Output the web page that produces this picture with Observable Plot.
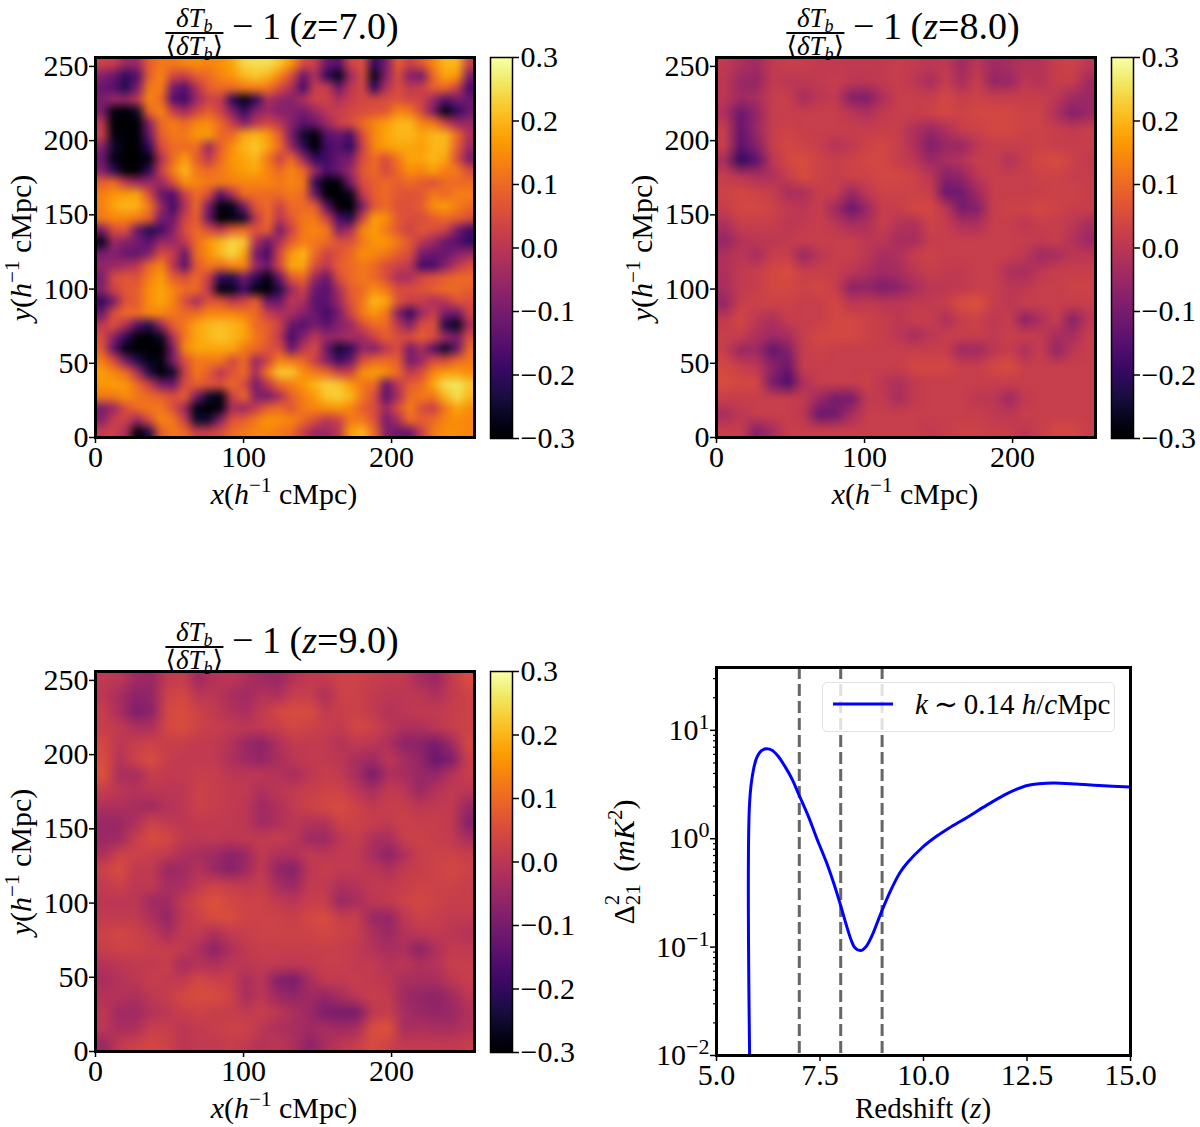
<!DOCTYPE html>
<html><head><meta charset="utf-8">
<script src="https://cdn.jsdelivr.net/npm/d3@7"></script>
<script src="https://cdn.jsdelivr.net/npm/@observablehq/plot@0.6"></script>
<style>
html,body{margin:0;padding:0;background:#fff}
#page{position:relative;width:1200px;height:1127px;overflow:hidden;font-family:"Liberation Serif","DejaVu Serif",serif;color:#000}
.lab{position:absolute;white-space:nowrap;font-size:30px;line-height:1;transform:translate(-50%,-50%)}
.lab.rot{transform:translate(-50%,-50%) rotate(-90deg)}
.lab sup{font-size:21px;line-height:0;vertical-align:baseline;position:relative;top:-12px}
.title{position:absolute;white-space:nowrap;font-size:38px;line-height:1;display:flex;align-items:center;transform:translateX(-50%)}
.title .rest{position:relative;top:-6px;word-spacing:-1px}
.frac{display:inline-flex;flex-direction:column;align-items:center;font-size:27px;margin-right:9px}
.frac .n{padding:0 3px 1px;border-bottom:2px solid #000;line-height:26px;height:26px;align-self:stretch;text-align:center}
.frac .d{line-height:24px;height:24px}
.frac sub{font-size:18px;line-height:0;vertical-align:baseline;position:relative;top:5px;font-style:italic}
.legend{position:absolute;left:822px;top:682px;width:293px;height:50px;border:1px solid #e2e2e2;border-radius:5px;background:rgba(255,255,255,.8);box-sizing:border-box}
.legend .k{position:absolute;left:92px;top:3px;font-size:29px;line-height:36px;white-space:nowrap}
</style></head><body><div id="page"></div>
<script>
const zSeven = [
[.03,.02,-.05,-.05,.08,.12,.12,.14,.15,.14,.15,.18,.24,.25,.25,.22,.16,.05,.02,-.12,-.15,.03,.06,-.2,-.1,.08,.02,.07,.14,.2,.2,.02],
[-.08,-.12,-.2,-.15,.08,.14,.04,.02,.08,.1,.14,.16,.2,.22,.2,.14,.05,-.12,-.02,-.2,-.27,-.05,.05,-.27,-.08,.05,-.08,-.1,.1,.18,.16,-.1],
[-.12,-.15,-.22,-.1,.12,.13,-.1,-.15,-.02,.08,.1,.1,.12,.13,.12,.05,-.02,-.17,.02,.02,-.12,.0,.04,-.2,-.02,.05,.0,.02,.08,.1,.03,-.17],
[-.1,-.05,-.06,.0,.14,.1,-.15,-.18,-.05,.03,.02,-.2,-.28,-.2,-.03,-.06,-.08,-.02,.03,.03,-.02,.02,.04,.04,.05,.06,.04,.03,-.05,-.15,-.1,-.12],
[-.1,-.28,-.3,-.25,.1,.14,.02,-.04,.03,.08,.03,-.08,-.2,-.08,-.05,-.08,-.08,-.1,-.05,.0,.02,.04,.05,.06,.07,.14,.12,.04,-.1,-.28,-.2,-.12],
[.0,-.3,-.3,-.3,-.08,.1,.13,.1,.14,.15,.1,.02,-.08,.0,.04,.0,-.08,-.15,-.12,-.05,.02,.05,.1,.14,.17,.2,.2,.14,.12,.03,-.05,-.05],
[.03,-.28,-.3,-.3,-.12,.08,.12,.12,.16,.17,.1,.1,.18,.2,.17,.08,-.1,-.25,-.3,-.15,-.12,-.16,.05,.14,.18,.2,.2,.18,.2,.2,.1,-.02],
[-.08,-.25,-.3,-.3,-.2,.05,.1,.1,.1,-.05,.08,.15,.2,.22,.18,.1,-.05,-.2,-.3,-.18,-.15,-.2,.02,.14,.17,.18,.18,.17,.2,.2,.08,-.05],
[-.12,-.28,-.3,-.3,-.28,-.02,.1,.17,.08,.0,.1,.16,.18,.2,.12,.03,.1,-.05,-.2,-.18,-.12,-.1,.05,.1,.05,.12,.18,.18,.2,.18,.05,-.1],
[-.08,-.2,-.3,-.3,-.2,.02,.13,.2,.12,.1,.12,.15,.17,.18,.14,.1,.14,.1,-.05,-.17,-.12,-.05,.07,.1,.04,.1,.15,.14,.17,.13,.12,.05],
[.08,.1,.0,-.05,-.05,-.05,.05,.15,.14,.12,.12,.13,.14,.14,.14,.12,.14,.12,-.2,-.3,-.28,-.1,.05,.08,.1,.08,.1,.08,.06,.1,.1,.1],
[.13,.16,.17,.18,.05,-.12,-.16,.02,.1,.05,-.15,-.03,.1,.1,.1,.1,.12,.1,-.12,-.3,-.3,-.27,.0,.08,.1,.07,.06,.07,.12,.1,.13,.13],
[.13,.18,.2,.19,.12,-.05,-.18,-.02,.1,-.1,-.28,-.27,-.1,.07,.1,.03,.1,.1,.08,-.15,-.3,-.3,-.1,.07,.1,.06,.06,.08,.15,.17,.13,.1],
[.12,.14,.14,.12,.08,-.1,-.12,.03,.08,-.12,-.3,-.28,-.25,.0,.1,.0,.07,.12,.12,.03,-.17,-.22,.03,.17,.15,.07,.05,.05,.08,.1,.08,.05],
[-.1,.05,.06,-.12,-.22,-.18,-.08,.05,.1,.05,.0,.08,.1,.06,.08,-.1,.03,.12,.14,.12,-.08,-.03,.14,.17,.12,.07,.03,.07,.05,.03,-.1,-.18],
[-.27,-.05,-.08,-.1,-.15,-.05,-.05,.0,.1,.16,.2,.24,.22,-.02,-.12,-.02,.08,.13,.12,.1,.06,.06,.12,.16,.16,.12,.07,.0,-.05,-.12,-.15,-.2],
[-.1,-.08,-.12,-.13,-.08,.05,.02,-.12,.1,.15,.2,.24,.18,-.1,-.17,.04,.16,.2,.1,.03,.06,.1,.15,.14,.12,.08,.05,-.1,-.12,-.12,-.08,-.05],
[-.06,-.05,-.03,.0,.1,.14,.0,-.14,.07,.12,.1,.14,.14,-.05,-.12,.04,.18,.18,.05,.0,.08,.1,.12,.1,.05,.03,.0,-.17,-.17,-.08,.0,.05],
[-.1,.05,.07,.06,.13,.17,.08,.05,.1,.02,-.2,-.22,-.1,-.2,-.28,-.12,.07,.1,-.05,-.12,.05,.1,.12,.1,.05,-.03,-.02,.04,.06,.08,.1,.1],
[-.08,.03,.07,.08,.15,.18,.14,.1,.1,.0,-.28,-.27,-.18,-.28,-.3,-.22,-.05,.03,-.12,-.15,-.03,.08,.1,.15,.12,.05,.05,.06,.08,.1,.1,.08],
[-.2,-.1,.06,.08,.15,.18,.14,.05,-.03,.06,.06,.0,.03,.08,-.12,-.12,.0,-.02,-.14,-.14,-.05,.06,.12,.2,.18,.06,.02,.02,-.02,.0,.06,.05],
[-.12,.05,.1,.1,.14,.14,.12,.1,.1,.14,.14,.14,.12,.1,.02,-.02,-.03,-.08,-.12,-.18,-.1,.03,.12,.16,.12,-.08,-.2,-.05,.02,-.1,-.12,.03],
[.0,.06,-.02,-.15,-.22,-.05,.08,.12,.18,.2,.21,.2,.18,.1,.08,.03,-.12,-.15,-.1,-.14,-.08,-.05,.05,.1,.1,.0,-.08,.05,.06,-.22,-.27,-.03],
[.05,-.08,-.2,-.3,-.3,-.26,-.02,.12,.18,.2,.22,.2,.18,.12,.08,.0,-.17,-.08,.0,-.05,-.05,-.03,-.04,.03,.08,.05,.05,.08,.05,-.05,-.1,.05],
[.07,-.14,-.28,-.3,-.3,-.3,-.1,.14,.18,.18,.18,.18,.12,.1,.06,.05,-.12,.0,.05,-.12,-.25,-.2,-.06,-.08,.0,.05,-.1,-.03,-.15,-.25,-.12,.1],
[.13,.05,-.1,-.22,-.28,-.28,-.1,.05,.12,.12,.12,.04,.1,-.05,.03,.14,.12,.1,.02,-.08,-.18,-.12,.05,.1,.1,.08,-.1,-.05,.05,.05,.1,.12],
[.17,.14,.1,-.02,-.22,-.3,-.25,.02,.12,.08,.0,.06,.1,-.03,.12,.22,.22,.15,.12,.1,.03,.03,.15,.17,.15,.1,.0,.05,.14,.17,.17,.15],
[.16,.17,.16,.1,.02,-.1,-.12,.05,.08,.06,.05,.1,.05,-.1,.0,.1,.13,.16,.2,.23,.22,.17,.12,.1,-.12,.0,.08,.1,.18,.25,.26,.22],
[.12,.12,.15,.12,.1,.08,.05,.08,-.1,-.25,-.28,.02,.1,-.08,-.1,-.03,.08,.13,.17,.22,.23,.2,.12,.05,-.14,-.03,.1,.12,.12,.2,.25,.2],
[-.1,-.05,.05,.1,.12,.12,.06,-.05,-.28,-.3,-.28,-.03,-.05,.02,.08,.1,.07,.12,.14,.15,.16,.14,.08,.05,-.05,.05,.13,.05,.02,.12,.18,.15],
[-.08,.02,.03,-.05,.05,.14,.12,.02,-.25,-.25,-.08,.06,.08,.12,.16,.15,.14,.1,.05,.0,.03,.12,.12,.06,-.1,-.02,.1,.08,.1,.14,.15,.14],
[.02,.03,-.03,-.3,-.22,.08,.12,.1,.02,.02,.05,.1,.12,.14,.14,.12,.1,.02,-.05,-.05,.0,.17,.2,.1,-.08,-.12,-.12,.02,.12,.15,.15,.14]
];
const zEight = [
[.01,-.02,-.04,.01,.02,.02,.01,.01,.01,.01,.01,.02,.01,.0,.01,-.04,.0,-.04,-.03,-.01,-.01,.02,.03,.0],
[.0,-.05,-.06,.01,.0,.0,.01,.02,.0,.0,.01,.02,.0,-.03,.02,-.03,.02,-.06,-.05,.0,-.01,.02,.02,-.04],
[.0,-.04,-.03,.02,.02,-.03,.0,.01,-.08,-.09,-.02,.02,.02,.02,.04,.02,.03,.02,.02,.02,.02,.0,-.04,-.05],
[-.02,-.12,-.06,.02,.02,.02,.02,.02,.0,-.02,.01,.02,.02,.03,.04,.03,.04,.04,.04,.03,.03,-.02,-.08,-.05],
[.02,-.13,-.05,.02,.03,.02,.02,.02,.02,.02,.02,.02,-.02,-.05,-.02,.02,.03,.04,.04,.03,.03,.02,.01,.02],
[.02,-.14,-.08,.02,.04,.03,.02,-.01,.01,.03,.04,.02,-.02,-.09,-.05,-.05,.0,.02,.02,.02,.03,.02,.02,.02],
[-.03,-.2,-.14,.0,.04,.05,.03,.02,.03,.04,.04,.02,.0,-.05,-.03,-.01,.02,.02,-.01,.02,.04,.05,.03,.01],
[.02,.0,-.02,-.02,.02,.05,.03,.02,.03,.03,.04,.04,.03,.0,-.08,-.06,.0,.02,.02,.02,.03,.03,.02,.02],
[.03,.04,.03,.02,-.03,-.02,.02,.02,-.05,.01,.03,.03,.03,.02,-.12,-.11,-.04,.02,.02,.02,.02,.03,.03,.02],
[.02,.04,.04,.03,.01,.0,.02,-.04,-.12,-.05,.02,.02,.04,.04,.0,-.1,-.08,.02,.03,.03,.04,.03,.02,.02],
[-.02,.02,.02,.02,.0,.01,.02,.0,-.03,-.02,.02,-.01,-.02,.03,.02,-.02,-.02,.02,.02,.0,.02,.02,.0,-.03],
[-.06,-.01,.0,.0,.01,.02,.02,.02,.02,.0,.0,-.03,-.03,.02,.02,.02,.02,.02,.02,.02,.01,.02,-.01,-.05],
[-.02,.0,-.03,.02,.02,-.05,.0,.02,.02,.0,-.03,-.02,.02,.03,.02,.02,.02,.02,.02,.0,-.04,-.03,.0,.0],
[-.02,.01,.02,.04,.05,.02,.02,.02,.0,-.02,-.04,-.03,.0,.02,.01,.01,.02,.02,-.02,-.03,.0,.02,.02,.02],
[-.03,.01,.02,.04,.04,.03,.04,.02,-.07,-.06,-.09,-.07,-.03,.0,.0,.01,.02,.02,.0,.0,.02,.02,.03,.03],
[-.06,.02,.03,.03,.03,.02,.02,.04,.0,.01,.0,.0,.01,.01,.02,.05,.06,.02,.0,.02,.02,.02,.02,.02],
[.01,.04,.0,-.02,.02,.02,.02,.04,.04,.03,.02,.0,.02,.02,-.02,.02,.03,.0,.02,-.07,-.02,.02,-.08,.0],
[.02,.02,-.02,-.04,-.03,.02,.04,.04,.04,.03,.02,.0,-.03,.0,.02,.02,.02,.01,.02,.02,.01,-.03,-.03,.02],
[.02,-.05,-.04,-.13,-.08,.02,.03,.02,.02,.02,.02,.02,.02,.02,.02,-.04,-.04,.0,.02,-.02,.02,-.06,.0,.02],
[.04,.02,.0,-.07,-.12,.02,.02,.02,.02,.02,.02,.02,.04,.04,.04,.02,.02,.04,.05,.02,.02,.02,.02,.02],
[.05,.04,.04,-.1,-.16,-.02,.02,.02,.02,.03,.0,-.02,.01,.02,.02,.02,.02,.02,.02,.02,.02,.02,.02,.02],
[.02,.02,.02,.02,.02,.01,-.05,-.1,-.1,.01,.01,-.03,.01,.02,.02,.02,.0,.0,-.04,.01,.02,.02,.02,.02],
[-.03,.0,.02,.02,.02,.0,-.12,-.11,-.03,.02,.02,.02,.02,.02,.02,.02,.02,.01,.0,.02,.02,.02,.02,.02],
[.02,.02,-.08,-.03,.02,.02,.02,.02,.02,.02,.02,.02,.02,.01,.02,.03,.03,.02,.02,.0,.02,.04,.04,.02]
];
const zNine = [
[.01,.0,-.04,-.05,.01,.02,-.04,-.01,.0,-.02,-.04,-.05,-.01,.01,.01,.03,.03,.02,.01,.01,-.03,-.05,.01,.05],
[.0,-.03,-.07,-.06,.03,.04,.0,.0,-.03,-.04,-.01,-.02,.02,.02,-.02,.03,.03,.01,.0,.0,.0,-.02,.01,.03],
[.02,-.03,-.09,-.07,.04,.05,.03,.01,-.01,-.03,.01,.04,.05,.05,.01,.02,.03,.01,-.01,.0,.01,.01,.02,.03],
[.02,.01,-.02,-.02,.04,.05,.03,.02,.01,.0,.01,.02,.04,.03,.02,.01,.04,.03,.0,-.02,-.02,.0,.02,.03],
[.04,.0,.02,.03,.02,.02,.01,.01,-.01,-.05,-.07,-.02,.01,.01,.01,-.01,.01,.0,-.02,-.07,-.07,-.1,-.04,.04],
[.05,-.01,.03,.05,.02,.01,.01,.01,-.02,-.04,-.06,-.03,.0,.01,.01,.0,-.03,-.04,.0,-.03,-.06,-.12,-.09,.02],
[.06,-.03,-.03,.02,.01,.01,.02,.02,.0,.0,.0,-.01,-.03,.0,.02,.01,-.03,-.1,-.02,-.03,-.05,-.06,-.01,.02],
[.02,.0,-.01,.0,.0,.0,.03,.02,.01,.01,-.02,.0,.01,.02,.03,.03,.0,-.03,.01,.0,-.05,-.01,.01,.0],
[-.02,-.02,-.03,-.04,-.01,.0,.03,.02,.01,.0,-.04,-.02,.01,.03,.04,.05,.03,.01,.02,.02,.0,.01,.01,-.05],
[-.05,-.05,-.02,.03,.01,.0,.01,.01,.01,.0,-.04,-.02,.0,-.01,-.01,.03,.03,.02,.01,.03,.02,.02,.01,-.08],
[-.05,-.04,.02,.05,.04,.01,.0,.01,.0,.01,.01,.02,.0,-.04,-.05,.0,.02,-.02,-.03,.02,.03,.02,.01,-.03],
[-.02,.03,.03,.02,.01,-.02,-.03,-.04,-.07,-.05,.01,-.02,-.02,.01,.0,.01,.01,-.03,-.07,-.02,.02,.03,.03,.02],
[.03,.05,.01,.01,-.05,-.04,-.01,-.05,-.08,-.04,.01,-.06,-.08,.0,.02,.01,.01,.0,-.02,.01,.02,.03,.04,.03],
[.01,.03,.0,.01,-.03,-.03,.01,.03,.02,.01,.02,-.03,-.05,.01,.01,-.02,-.01,.01,.01,.02,.03,.03,.03,.02],
[.0,.0,.0,-.04,-.04,.01,.04,.06,.04,.03,.03,.01,.0,.02,.02,-.05,-.03,.0,.01,.03,.04,.03,.02,.02],
[.01,.01,.01,-.02,-.06,.0,.03,.05,.05,.03,.03,.03,.02,.04,.05,.02,.02,-.05,-.06,.0,.03,.02,.01,.01],
[.03,.04,.03,.01,-.03,.01,.01,-.02,.01,.02,.03,.03,.03,.03,.04,.03,.02,-.02,-.05,-.01,.0,.01,.0,-.01],
[.02,.03,.03,.02,.02,.01,-.02,-.07,-.02,.01,.02,.02,.02,.02,.02,.02,.01,-.01,-.03,-.02,-.07,-.02,.01,.01],
[-.01,.0,.01,.01,.02,-.03,-.01,-.02,.0,.0,.01,.01,.0,.01,.02,.02,.01,.01,-.01,.0,-.02,-.01,.02,.02],
[-.03,-.01,.0,.02,.01,.01,.04,.03,.02,-.03,.0,-.08,-.1,-.03,.01,.01,.02,.01,.0,-.03,-.03,-.03,.0,.02],
[-.01,-.01,-.02,.0,.02,.04,.05,.05,.03,-.03,.0,-.04,-.06,-.04,-.06,-.03,.0,.02,.01,-.04,-.06,-.07,-.04,.0],
[.0,-.04,-.04,-.01,.0,.02,.03,.02,.02,.01,.02,.0,-.02,-.05,-.09,-.1,-.1,.0,.02,-.03,-.05,-.06,-.05,-.02],
[.0,-.03,-.02,.02,.02,.0,.01,.02,.03,.03,.0,-.02,-.03,-.04,-.03,-.04,-.03,.05,.06,-.03,-.02,-.03,-.03,-.01],
[-.05,.01,.03,.04,.03,.0,.01,.01,.02,.01,-.01,.0,-.02,-.07,-.03,.0,.02,.05,.03,.01,.01,.01,.01,.02]
];
const redshift = [5.8,5.8,5.89,5.98,6.09,6.21,6.34,6.48,6.66,6.84,6.98,7.21,7.43,7.66,7.84,7.98,8.11,8.25,8.34,8.48,8.61,8.75,8.88,8.99,9.2,9.43,9.61,9.97,10.34,10.61,11.06,11.52,11.97,12.24,12.51,12.79,13.15,13.69,14.24,15];
const power = [.01,2.17,4.28,5.69,6.52,6.76,6.56,5.82,4.6,3.46,2.6,1.64,.99,.6,.38,.256,.173,.117,.099,.093,.101,.126,.167,.214,.329,.486,.6,.83,1.07,1.25,1.58,2.03,2.55,2.85,3.1,3.22,3.27,3.2,3.1,3];
const markedRedshifts = [7,8,9];
const axisTicks = [0,100,200];
const axisTicksY = [0,50,100,150,200,250];
const barTicks = [-.3,-.2,-.1,0,.1,.2,.3];
const logMajor = [.01,.1,1,10];
const logMinor = [.02,.03,.04,.05,.06,.07,.08,.09,.2,.3,.4,.5,.6,.7,.8,.9,2,3,4,5,6,7,8,9,20,30];
const zTicks = [5,7.5,10,12.5,15];
const panels = [
  {rows:zSeven,z:"7.0",dx:0,dy:0},
  {rows:zEight,z:"8.0",dx:621,dy:0},
  {rows:zNine,z:"9.0",dx:0,dy:614}
];
const FS = 30;
const page = document.getElementById("page");
const colorScale = {type:"linear",scheme:"inferno",domain:[-.3,.3],clamp:true};
const place = (svg,l,t)=>{svg.style.position="absolute";svg.style.left=l+"px";svg.style.top=t+"px";svg.style.overflow="visible";svg.style.background="none";page.appendChild(svg);return svg;};
const html = (cls,css,h)=>{const e=document.createElement("div");e.className=cls;e.style.cssText=css;e.innerHTML=h;page.appendChild(e);return e;};
const baseStyle = {fontFamily:"Liberation Serif",fontSize:FS+"px",color:"black",background:"none",overflow:"visible"};

function rasterOf(rows,opts){
  const n=rows.length,m=rows[0].length;
  return Plot.raster(d3.range(n*m),{width:m,height:n,x1:0,x2:256,y1:256,y2:0,fill:k=>rows[Math.floor(k/m)][k%m],...opts});
}
for(const p of panels){
  const svg = Plot.plot({
    width:490,height:510,marginLeft:95,marginRight:16,marginTop:57,marginBottom:73,
    style:baseStyle,
    x:{domain:[0,256]},y:{domain:[0,256]},color:colorScale,
    marks:[
      rasterOf(p.rows,{}),
      rasterOf(p.rows,{clip:"frame",className:"soft"}),
      Plot.frame({stroke:"black",strokeWidth:3}),
      Plot.axisX({ticks:axisTicks,tickSize:6,tickPadding:2,label:null,strokeWidth:1.5,fontSize:FS}),
      Plot.axisY({ticks:axisTicksY,tickSize:6,tickPadding:1,label:null,strokeWidth:1.5,fontSize:FS})
    ]
  });
  svg.querySelectorAll(".soft image").forEach(im=>{im.style.filter="blur(2px)";});
  place(svg,p.dx,p.dy);
  const levels=d3.range(256).map(i=>-.3+.6*(i+.5)/256);
  const bar = Plot.plot({
    width:92,height:510,marginLeft:2,marginRight:68,marginTop:57,marginBottom:72,
    style:baseStyle,
    x:{domain:[0,1],axis:null},y:{domain:[-.3,.3]},color:colorScale,
    marks:[
      Plot.raster(levels,{width:1,height:256,x1:0,x2:1,y1:-.3,y2:.3,fill:d=>d}),
      Plot.frame({stroke:"black",strokeWidth:1.5}),
      Plot.axisY({anchor:"right",ticks:barTicks,tickSize:6,tickPadding:2,label:null,strokeWidth:1.5,fontSize:FS,tickFormat:d3.format(".1f")})
    ]
  });
  place(bar,p.dx+488,p.dy);
  html("title",`left:${282+p.dx}px;top:${p.dy+5}px`,
    `<span class="frac"><span class="n"><i>δT<sub>b</sub></i></span><span class="d">⟨<i>δT<sub>b</sub></i>⟩</span></span><span class="rest">− 1 (<i>z</i>=${p.z})</span>`);
  html("lab",`left:${284+p.dx}px;top:${494+p.dy}px`,`<i>x</i>(<i>h</i><sup>−1</sup> cMpc)`);
  html("lab rot",`left:${21+p.dx}px;top:${248+p.dy}px`,`<i>y</i>(<i>h</i><sup>−1</sup> cMpc)`);
}
const curve = redshift.map((z,i)=>({z,p:power[i]}));
const sup = {"0.01":"−2","0.1":"−1","1":"0","10":"1"};
const ps = Plot.plot({
  width:590,height:480,marginLeft:106,marginRight:70,marginTop:17,marginBottom:75,
  style:baseStyle,
  x:{domain:[5,15]},y:{type:"log",domain:[.01,38]},
  marks:[
    Plot.ruleX(markedRedshifts,{stroke:"#555",strokeOpacity:.9,strokeWidth:3,strokeDasharray:"12,5"}),
    Plot.line(curve,{x:"z",y:"p",stroke:"blue",strokeWidth:3,clip:"frame",curve:"catmull-rom"}),
    Plot.frame({stroke:"black",strokeWidth:3}),
    Plot.axisY({ticks:logMinor,tickSize:3,tickFormat:()=>"",label:null,strokeWidth:1.2}),
    Plot.axisY({ticks:logMajor,tickSize:6,tickPadding:1,label:null,strokeWidth:1.5,fontSize:FS,tickFormat:d=>"10^"+sup[String(d)],className:"logy"}),
    Plot.axisX({ticks:zTicks,tickSize:6,tickPadding:2,label:null,strokeWidth:1.5,fontSize:FS,tickFormat:d3.format(".1f")})
  ]
});
ps.querySelectorAll(".logy text").forEach(t=>{
  const s=t.textContent.split("^");
  t.innerHTML=`10<tspan dy="-11" font-size="22">${s[1]}</tspan>`;
});
place(ps,610,650);
html("legend","",`<svg width="70" height="47" style="position:absolute;left:0;top:0"><line x1="10" x2="70" y1="21" y2="21" stroke="blue" stroke-width="3"/></svg><span class="k"><i>k</i>&#8201;∼&#8201;0.14 <i>h</i>/<i>c</i>Mpc</span>`);
html("lab",`left:923px;top:1108px;font-size:29px`,`Redshift (<i>z</i>)`);
html("lab rot",`left:624px;top:862px`,`Δ<span style="display:inline-block;position:relative;width:26px;height:20px"><span style="position:absolute;left:0;top:-12px;font-size:21px">2</span><span style="position:absolute;left:0;top:9px;font-size:21px">21</span></span>&nbsp;(<i>mK</i><sup>2</sup>)`);
</script></body></html>
